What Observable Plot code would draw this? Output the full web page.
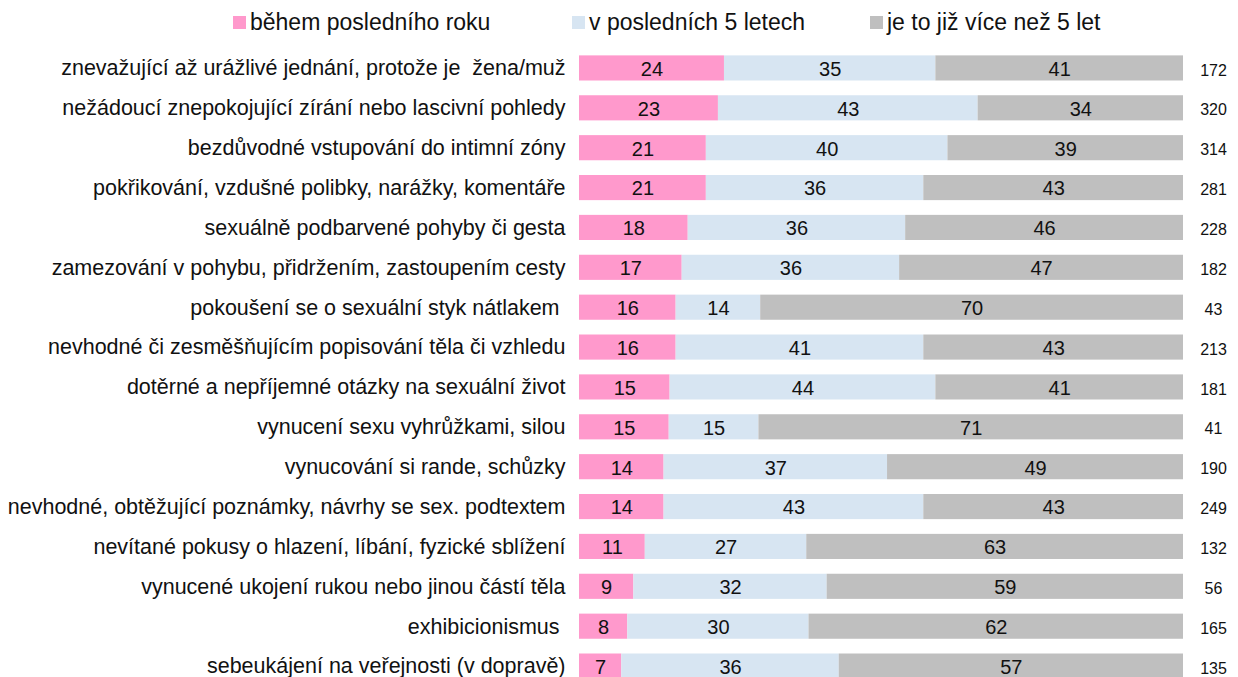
<!DOCTYPE html>
<html>
<head>
<meta charset="utf-8">
<script src="https://cdn.jsdelivr.net/npm/d3@7"></script>
<script src="https://cdn.jsdelivr.net/npm/@observablehq/plot@0.6"></script>
<style>
  body { margin: 0; background: #fff; font-family: "Liberation Sans", Arial, sans-serif; overflow: hidden; }
  #legend { position: relative; height: 45px; width: 1238px; }
  .item { position: absolute; top: 8px; line-height: 28px; font-size: 23px; color: #111; display: flex; align-items: center; white-space: nowrap; }
  .sw { width: 13px; height: 13px; display: inline-block; margin-right: 4px; }
</style>
</head>
<body>
<div id="legend"></div>
<div id="chart"></div>
<script>
const categories = [
  "znevažující až urážlivé jednání, protože je  žena/muž",
  "nežádoucí znepokojující zírání nebo lascivní pohledy",
  "bezdůvodné vstupování do intimní zóny",
  "pokřikování, vzdušné polibky, narážky, komentáře",
  "sexuálně podbarvené pohyby či gesta",
  "zamezování v pohybu, přidržením, zastoupením cesty",
  "pokoušení se o sexuální styk nátlakem\u00a0",
  "nevhodné či zesměšňujícím popisování těla či vzhledu",
  "dotěrné a nepříjemné otázky na sexuální život",
  "vynucení sexu vyhrůžkami, silou",
  "vynucování si rande, schůzky",
  "nevhodné, obtěžující poznámky, návrhy se sex. podtextem",
  "nevítané pokusy o hlazení, líbání, fyzické sblížení",
  "vynucené ukojení rukou nebo jinou částí těla",
  "exhibicionismus\u00a0",
  "sebeukájení na veřejnosti (v dopravě)"
];
const series = ["během posledního roku", "v posledních 5 letech", "je to již více než 5 let"];
const lastYear =  [24, 23, 21, 21, 18, 17, 16, 16, 15, 15, 14, 14, 11, 9, 8, 7];
const last5 =     [35, 43, 40, 36, 36, 36, 14, 41, 44, 15, 37, 43, 27, 32, 30, 36];
const moreThan5 = [41, 34, 39, 43, 46, 47, 70, 43, 41, 71, 49, 43, 63, 59, 62, 57];
const counts =    [172, 320, 314, 281, 228, 182, 43, 213, 181, 41, 190, 249, 132, 56, 165, 135];
const colors = ["#ff99cc", "#d7e5f2", "#bfbfbf"];

const values = [lastYear, last5, moreThan5];
const long = [];
categories.forEach((c, i) => {
  series.forEach((s, j) => long.push({category: c, series: s, value: values[j][i]}));
});
const countData = categories.map((c, i) => ({category: c, n: counts[i]}));

// legend
const legendPos = [233, 572, 870];
const legend = document.getElementById("legend");
series.forEach((s, j) => {
  const d = document.createElement("div");
  d.className = "item";
  d.style.left = legendPos[j] + "px";
  d.innerHTML = `<span class="sw" style="background:${colors[j]}"></span>${s}`;
  legend.appendChild(d);
});

const chart = Plot.plot({
  width: 1238,
  height: 641,
  marginTop: 3,
  marginBottom: 0,
  marginLeft: 579,
  marginRight: 55,
  style: {fontFamily: "Liberation Sans, Arial, sans-serif", color: "#111"},
  x: {axis: null, domain: [0, 1]},
  y: {domain: categories, paddingInner: 0.37, paddingOuter: 0.185, round: false, label: null, tickSize: 0, tickPadding: 14},
  color: {domain: series, range: colors},
  marks: [
    Plot.barX(long, Plot.stackX({offset: "normalize", x: "value", y: "category", z: "series", fill: "series", order: series})),
    Plot.text(long, Plot.stackX({offset: "normalize", x: "value", y: "category", z: "series", text: "value", order: series, fontSize: 20, fill: "#111", dy: 1})),
    Plot.text(countData, {x: () => 1, y: "category", text: "n", dx: 30, fontSize: 16, fill: "#111", dy: 2}),
    Plot.axisY({tickSize: 0, tickPadding: 14, fontSize: 21.5, label: null})
  ]
});
document.getElementById("chart").appendChild(chart);
</script>
</body>
</html>
